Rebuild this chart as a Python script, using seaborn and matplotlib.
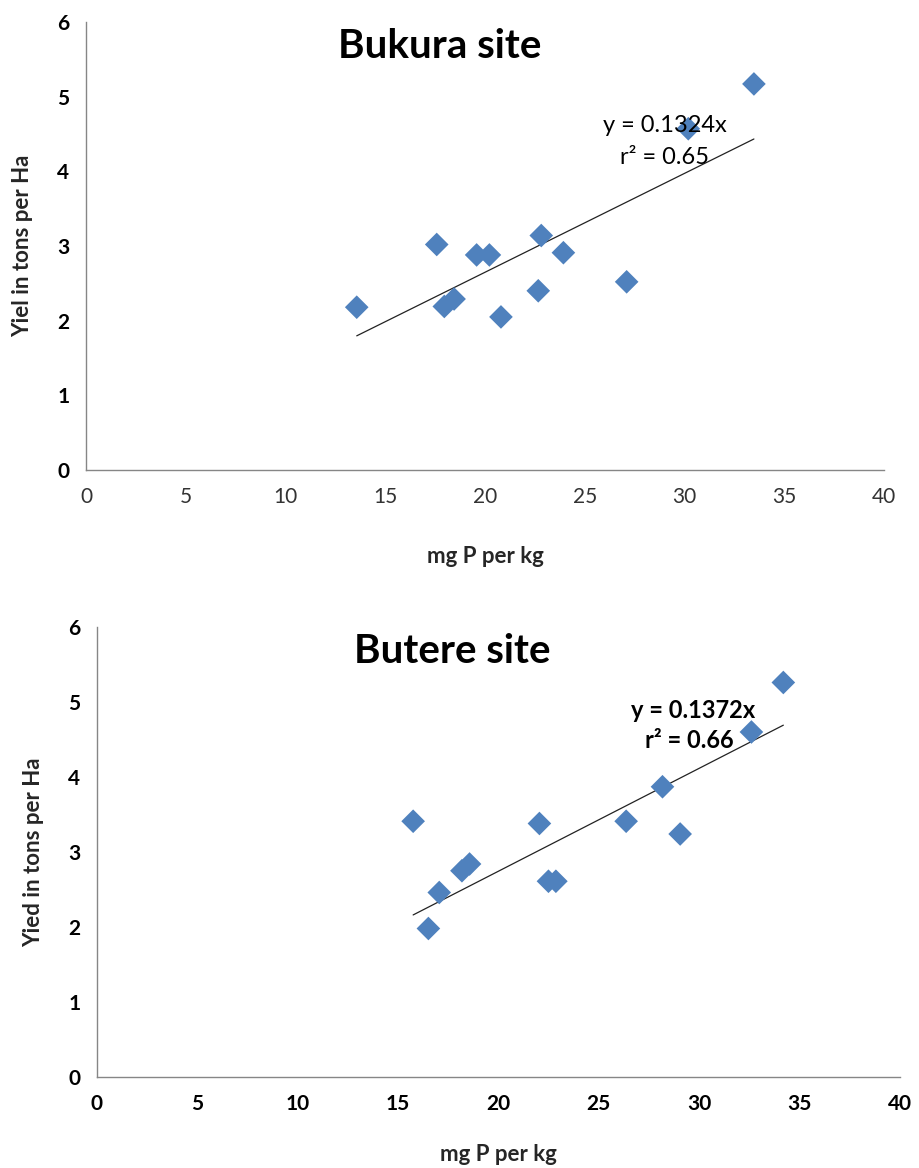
import matplotlib
matplotlib.use("Agg")
import matplotlib.pyplot as plt
import seaborn as sns
import numpy as np
import pandas as pd

sns.set_theme(style="white")
plt.rcParams['font.family'] = ['Lato', 'DejaVu Sans']

# ---- data ----
bukura_p = [13.57, 17.58, 19.58, 20.22, 22.82, 23.93, 17.96, 18.45, 20.80, 22.67, 27.10, 30.19, 33.48]
bukura_yield = [2.18, 3.02, 2.88, 2.88, 3.14, 2.91, 2.19, 2.29, 2.05, 2.40, 2.52, 4.57, 5.17]
bukura_slope = 0.1324
bukura_r2 = 0.65

butere_p = [15.75, 16.51, 17.05, 18.18, 18.56, 22.04, 22.49, 22.86, 26.36, 28.17, 29.05, 32.60, 34.19]
butere_yield = [3.41, 1.98, 2.46, 2.75, 2.84, 3.38, 2.61, 2.61, 3.41, 3.87, 3.24, 4.60, 5.26]
butere_slope = 0.1372
butere_r2 = 0.66

x_ticks = [0, 5, 10, 15, 20, 25, 30, 35, 40]
y_ticks = [0, 1, 2, 3, 4, 5, 6]

BLUE = "#4F81BD"
GRID = "#868686"

fig = plt.figure(figsize=(9.19, 11.68), dpi=100)
ax1 = fig.add_axes([0.0936, 0.5976, 0.8683, 0.3836])
ax2 = fig.add_axes([0.1055, 0.0779, 0.8738, 0.3853])

def panel(ax, xs, ys, slope, r2, title, ylabel, eq_xy, r2_xy, eq_bold, xtick_bold,
          xlabelpad, ylabelpad):
    df = pd.DataFrame({"x": xs, "y": ys})
    sns.scatterplot(data=df, x="x", y="y", ax=ax, marker="D", s=145,
                    color=BLUE, edgecolor="none", linewidth=0, zorder=3)
    xl = np.array([min(xs), max(xs)])
    ax.plot(xl, slope * xl, color="#222222", lw=0.9, zorder=2)
    ax.set_xlim(0, 40)
    ax.set_ylim(0, 6)
    ax.set_xticks(x_ticks)
    ax.set_yticks(y_ticks)
    for s in ["top", "right"]:
        ax.spines[s].set_visible(False)
    for s in ["left", "bottom"]:
        ax.spines[s].set_color(GRID)
        ax.spines[s].set_linewidth(1.0)
    ax.tick_params(axis="both", direction="out", length=6, width=1, color=GRID,
                   labelsize=15, pad=6)
    for lab in ax.get_yticklabels():
        lab.set_fontweight("bold")
        lab.set_color("black")
    for lab in ax.get_xticklabels():
        lab.set_fontweight("bold" if xtick_bold else "normal")
        lab.set_color("black" if xtick_bold else "#333333")
    ax.set_xlabel("mg P per kg", fontsize=16, fontweight="bold", labelpad=xlabelpad)
    ax.set_ylabel(ylabel, fontsize=16, fontweight="bold", labelpad=ylabelpad)
    ax.text(0.443, 0.945, title, transform=ax.transAxes, ha="center", va="center",
            fontsize=29, fontweight="bold", color="black")
    w = "bold" if eq_bold else "normal"
    ax.text(eq_xy[0], eq_xy[1], f"y = {slope}x", ha="center", va="center",
            fontsize=17, fontweight=w, color="black", zorder=4)
    ax.text(r2_xy[0], r2_xy[1], f"r² = {r2}", ha="center", va="center",
            fontsize=17, fontweight=w, color="black", zorder=4)

panel(ax1, bukura_p, bukura_yield, bukura_slope, bukura_r2, "Bukura site",
      "Yiel in tons per Ha", (29.0, 4.62), (29.0, 4.18), False, False, 28, 17)
panel(ax2, butere_p, butere_yield, butere_slope, butere_r2, "Butere site",
      "Yied in tons per Ha", (29.7, 4.89), (29.5, 4.49), True, True, 22, 17)

fig.savefig("out.png", dpi=100)
